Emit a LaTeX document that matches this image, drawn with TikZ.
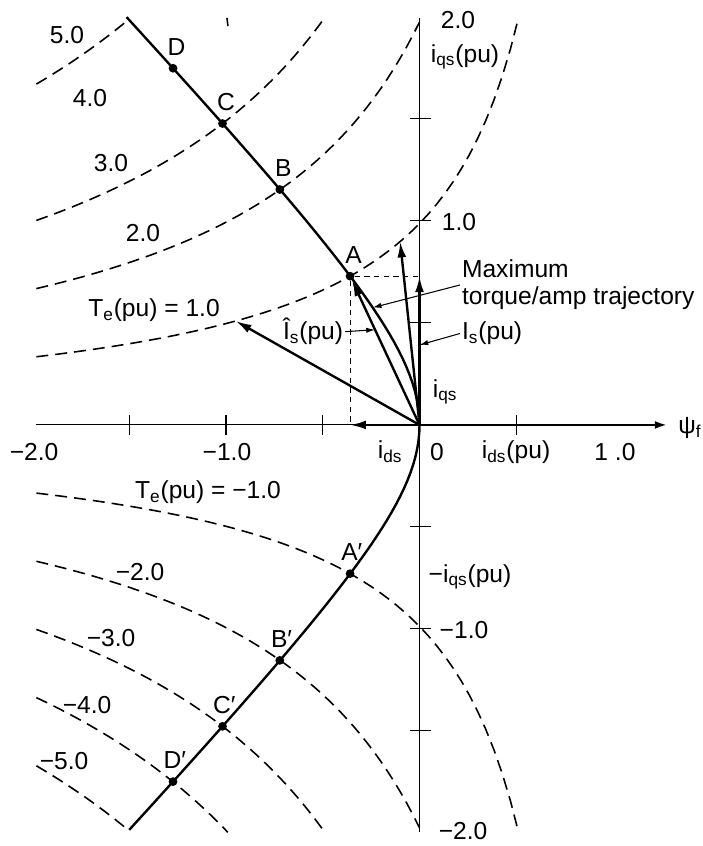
\documentclass[tikz,border=0pt]{standalone}
\usepackage{fontspec}
\setmainfont{Liberation Sans}
\usetikzlibrary{arrows.meta,positioning,calc}
\tikzset{
  vec/.style={-{Latex[length=9pt,width=5pt]}, line width=1.35pt},
  traj/.style={line width=1.35pt},
  tq/.style={dash pattern=on 6.8pt off 4pt, line width=0.9pt},
  guide/.style={dash pattern=on 3pt off 2.5pt, line width=0.5pt},
  lead/.style={-{Latex[length=5pt,width=3pt]}, line width=0.6pt},
  axthin/.style={line width=0.6pt},
  axbold/.style={-{Latex[length=7pt,width=4.5pt]}, line width=1.35pt},
  tk/.style={line width=0.6pt},
  pt/.style={circle, fill=black, inner sep=0pt, minimum size=5pt},
  lbl/.style={inner sep=1pt},
}

\begin{document}
\begin{tikzpicture}[x=3.87cm, y=4.08cm, font=\fontsize{14}{15.4}\selectfont]
\useasboundingbox (-2.168,-2.064) rectangle (1.465,2.083);

% ===================== constant-torque curves =====================
\foreach \T/\e in {1/0.5126, 2/0, 3/-0.49, 5/-1.52}
  \draw[tq] plot[domain=-1.98:\e, samples=60] (\x, {\T/(1.0126-\x)});
\foreach \T/\e in {1/0.5126, 2/0, 3/-0.49, 4/-0.99, 5/-1.52}
  \draw[tq] plot[domain=-1.98:\e, samples=60] (\x, {-\T/(1.0126-\x)});
\draw[line width=0.9pt] (-0.995,1.995) -- (-0.99,1.955);

% ===================== axes =====================
\coordinate (O) at (0,0);
\coordinate (xl) at (-1.98,0);
\coordinate (xr) at (1.28,0);
\coordinate (yt) at (0,1.995);
\coordinate (yb) at (0,-1.995);
\draw[axthin] (xl) -- (O);
\draw[axbold] (O) -- (xr);
\draw[axthin] (yb) -- (yt);
\foreach \t in {-1.5,-1,-0.5,0.5}
  \draw[tk] (\t,-0.05) -- (\t,0.05);
\foreach \t in {-1.5,-1,-0.5,0.5,1,1.5}
  \draw[tk] (-0.05,\t) -- (0.06,\t);

% ===================== max torque/amp trajectory =====================
\draw[traj] plot[variable=\t, domain=-1.985:2.0, samples=101]
  ({0.563-sqrt(0.316969+\t*\t)}, \t);

\foreach \pname/\px/\py in {A/-0.3589/0.7291, B/-0.722/1.154, C/-1.018/1.4775, D/-1.2738/1.7484} {
  \node[pt] (\pname) at (\px,\py) {};
  \node[lbl, above=3.5pt of \pname, xshift=2pt] (\pname_l) {\pname};
  \node[pt] (\pname p) at (\px,-\py) {};
  \node[lbl, above=3.5pt of \pname p, xshift=1pt] (\pname p_l) {\pname′};
}

% ===================== current vectors =====================
\coordinate (P1) at (-0.95,0.5095);
\coordinate (P2) at (-0.1,0.8988);
\draw[guide] (A) -- (O |- A);
\draw[guide] (A) -- (A |- O);
\draw[vec] (O) -- (P1);
\draw[vec] (O) -- (P2);
\draw[vec] (O) -- (A);
\draw[vec] (O) -- (O |- A);
\draw[vec] (O) -- (A |- O);

% ===================== axis labels =====================
\node[lbl] (y_top) at (0.199,1.985) {2.0};
\node[lbl] (y_name) at (0.235,1.804) {i\textsubscript{qs}(pu)};
\node[lbl] (y_one) at (0.204,0.995) {1.0};
\node[lbl] (y_nname) at (0.261,-0.745) {−i\textsubscript{qs}(pu)};
\node[lbl] (y_mone) at (0.230,-1.005) {−1.0};
\node[lbl] (y_bot) at (0.225,-1.99) {−2.0};
\node[lbl] (x_mtwo) at (-1.992,-0.132) {−2.0};
\node[lbl] (x_mone) at (-0.995,-0.132) {−1.0};
\node[lbl] (x_ids) at (-0.152,-0.132) {i\textsubscript{ds}};
\node[lbl] (x_zero) at (0.090,-0.132) {0};
\node[lbl] (x_name) at (0.499,-0.132) {i\textsubscript{ds}(pu)};
\node[lbl] (x_one) at (1.010,-0.132) {1 .0};
\node[lbl] (x_psi) at (1.398,-0.015) {ψ\textsubscript{f}};
\node[lbl] (iqs) at (0.132,0.162) {i\textsubscript{qs}};

% ===================== torque labels =====================
\node[lbl] (t5) at (-1.822,1.912) {5.0};
\node[lbl] (t4) at (-1.703,1.603) {4.0};
\node[lbl] (t3) at (-1.594,1.284) {3.0};
\node[lbl] (t2) at (-1.429,0.941) {2.0};
\node[lbl] (t1) at (-1.372,0.564) {T\textsubscript{e}(pu) = 1.0};
\node[lbl] (tm1) at (-1.093,-0.328) {T\textsubscript{e}(pu) = −1.0};
\node[lbl] (tm2) at (-1.444,-0.721) {−2.0};
\node[lbl] (tm3) at (-1.594,-1.044) {−3.0};
\node[lbl] (tm4) at (-1.718,-1.373) {−4.0};
\node[lbl] (tm5) at (-1.837,-1.647) {−5.0};

% ===================== callouts =====================
\node[lbl, anchor=west, align=left] (maxlbl) at (0.209,0.686)
  {Maximum\\torque/amp trajectory};
\node[lbl, anchor=base west] (islbl) at (0.209,0.417) {I\textsubscript{s}(pu)};
\node[lbl, anchor=base] (ishat) at (-0.55,0.417) {Î\textsubscript{s}(pu)};
\coordinate (M) at (-0.242,0.575);
\coordinate (Is) at (0,0.392);
\coordinate (Ih) at ($(O)!0.64!(A)$);
\draw[lead] (maxlbl.west) -- (M);
\draw[lead] (islbl.west) -- (Is);
\draw[lead] (ishat.east) -- (Ih);

\end{tikzpicture}
\end{document}
